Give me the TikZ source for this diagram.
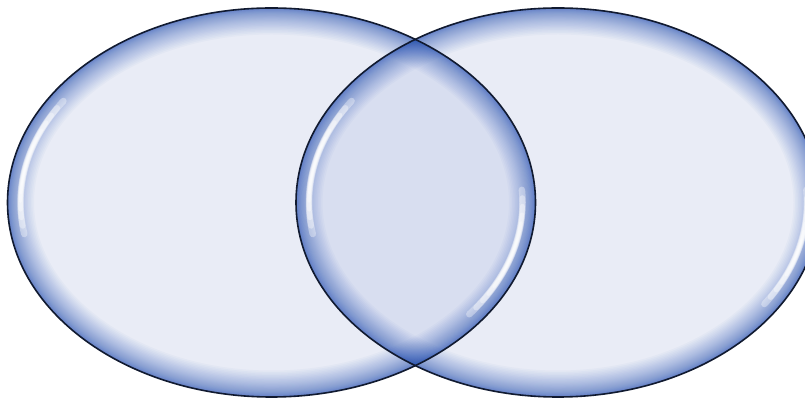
\documentclass[tikz,border=0pt]{standalone}
\definecolor{fillc}{HTML}{E9ECF6}
\definecolor{lensc}{HTML}{D8DEF0}
\definecolor{bevelc}{HTML}{1F4DB5}
\definecolor{linec}{HTML}{111A30}
\tikzset{
  outline/.style={draw=linec, line width=1.6pt},
  hlayer/.style={white, line cap=round, opacity=0.36},
}
% bevel: cx cy rx ry
\newcommand{\bevelE}[4]{%
  \begin{scope}
    \clip (#1,#2) ellipse[x radius=#3pt, y radius=#4pt];
    \foreach \k in {1,...,32}{
      \pgfmathsetmacro\w{2*26*(\k/32)^2.0+1}
      \draw[bevelc, opacity=0.032, line width=\w pt] (#1,#2) ellipse[x radius=#3pt, y radius=#4pt];
    }
  \end{scope}}
% highlight arc: cx cy rx ry a1 a2 width
\newcommand{\hlarc}[7]{%
  \draw[hlayer, line width=#7pt] ({#1+(#3-13)*cos(#5)},{#2+(#4-13)*sin(#5)})
     arc[start angle=#5, end angle=#6, x radius={#3pt-13pt}, y radius={#4pt-13pt}];}
\newcommand{\highlight}[6]{%
  \foreach \j in {0,...,6}{
    \pgfmathsetmacro\wa{6.5-0.8*\j}
    \hlarc{#1}{#2}{#3}{#4}{#5+2.6*\j}{#6-2.6*\j}{\wa}
  }}
\begin{document}
\begin{tikzpicture}[x=1pt,y=1pt]
  \useasboundingbox (0,0) rectangle (805,401);
  % base fills
  \fill[fillc] (271.5,198.5) ellipse[x radius=264pt, y radius=194.5pt];
  \fill[fillc] (558,198.5) ellipse[x radius=262pt, y radius=194.5pt];
  % lens
  \begin{scope}
    \clip (271.5,198.5) ellipse[x radius=264pt, y radius=194.5pt];
    \fill[lensc] (558,198.5) ellipse[x radius=262pt, y radius=194.5pt];
  \end{scope}
  % bevels
  \bevelE{271.5}{198.5}{264}{194.5}
  \bevelE{558}{198.5}{262}{194.5}
  % highlights
  \highlight{271.5}{198.5}{264}{194.5}{146}{190}
  \highlight{271.5}{198.5}{264}{194.5}{-38}{4}
  \highlight{558}{198.5}{262}{194.5}{146}{190}
  \highlight{558}{198.5}{262}{194.5}{-34}{4}
  % outlines
  \draw[outline] (271.5,198.5) ellipse[x radius=264pt, y radius=194.5pt];
  \draw[outline] (558,198.5) ellipse[x radius=262pt, y radius=194.5pt];
\end{tikzpicture}
\end{document}
